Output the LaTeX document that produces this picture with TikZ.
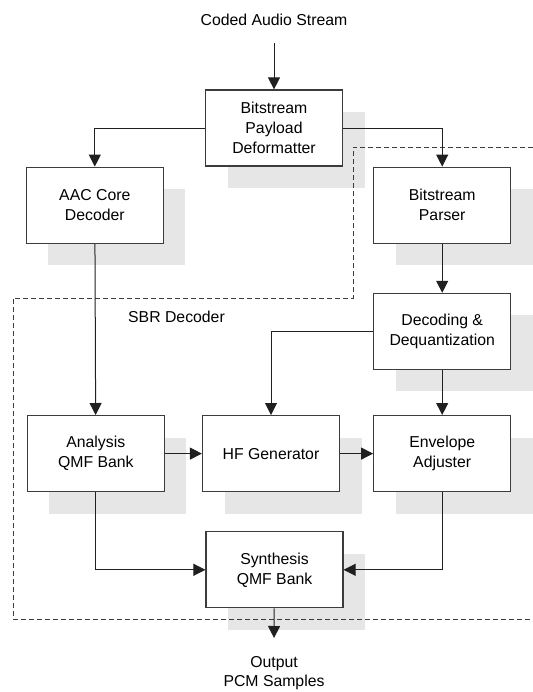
\documentclass[tikz,border=0pt]{standalone}
\usepackage{fontspec}
\setmainfont{Liberation Sans}
\usepackage{tikz}
\usetikzlibrary{arrows.meta,positioning,shadows}
\definecolor{SbrShade}{HTML}{E6E6E6}
\definecolor{SbrEdge}{HTML}{3C3C3C}
\definecolor{SbrWire}{HTML}{202020}

\begin{document}
\begin{tikzpicture}[x=1bp,y=1bp,>={Triangle[length=12bp,width=12bp]}, node distance=30bp,
    blk/.style={draw=SbrEdge, line width=1.2bp, fill=white, minimum width=137bp, minimum height=76bp, align=center, inner sep=0pt, font=\fontsize{15.8bp}{20bp}\selectfont, drop shadow={shadow xshift=22bp, shadow yshift=-22bp, fill=SbrShade, opacity=1}},
    lbl/.style={align=center, inner sep=0pt, font=\fontsize{15.8bp}{19bp}\selectfont},
    wire/.style={->, line width=1bp, draw=SbrWire}]
        \useasboundingbox (0,0) rectangle (533,-692);
        \node[lbl, anchor=base] (src) at (274,-26) {Coded Audio Stream};
        \node[blk] (bpd) at (274,-128) {Bitstream\\Payload\\Deformatter};
        \node[blk, below left=0pt and 41bp of bpd] (aac) {AAC Core\\Decoder};
        \node[blk, below right=0pt and 30bp of bpd] (parser) {Bitstream\\Parser};
        \node[blk, below=49bp of parser] (dequant) {Decoding \&\\Dequantization};
        \node[blk, below=45bp of dequant] (envadj) {Envelope\\Adjuster};
        \node[blk, left=33bp of envadj] (hfgen) {HF Generator};
        \node[blk, left=37bp of hfgen] (anaqmf) {Analysis\\QMF Bank};
        \node[blk, below=39bp of hfgen, xshift=3.5bp] (synqmf) {Synthesis\\QMF Bank};
        \node[lbl, anchor=north] (pcm) at (274,-656) {Output\\PCM Samples};
        \node[lbl, anchor=west] (sbr) at (128,-317) {SBR Decoder};
        % SBR decoder boundary
        \draw[SbrEdge, line width=1bp, dash pattern=on 5bp off 3bp] (533,-147) -- (353,-147) -- (353,-298) -- (13,-298) -- (13,-619) -- (533,-619);
        \draw[wire] ([yshift=-17bp]src.south) -- (bpd);
        \draw[wire] (bpd.west) -| (aac.north);
        \draw[wire] (bpd.east) -| (parser.north);
        \draw[wire] (parser) -- (dequant);
        \draw[wire] (dequant.west) -| (hfgen.north);
        \draw[wire] (dequant) -- (envadj);
        \draw[wire] (aac) -- (anaqmf);
        \draw[wire] (anaqmf) -- (hfgen);
        \draw[wire] (hfgen) -- (envadj);
        \draw[wire] (anaqmf.south) |- (synqmf.west);
        \draw[wire] (envadj.south) |- (synqmf.east);
        \draw[wire] (synqmf) -- ([yshift=18bp]pcm.north);
      \end{tikzpicture}
\end{document}
